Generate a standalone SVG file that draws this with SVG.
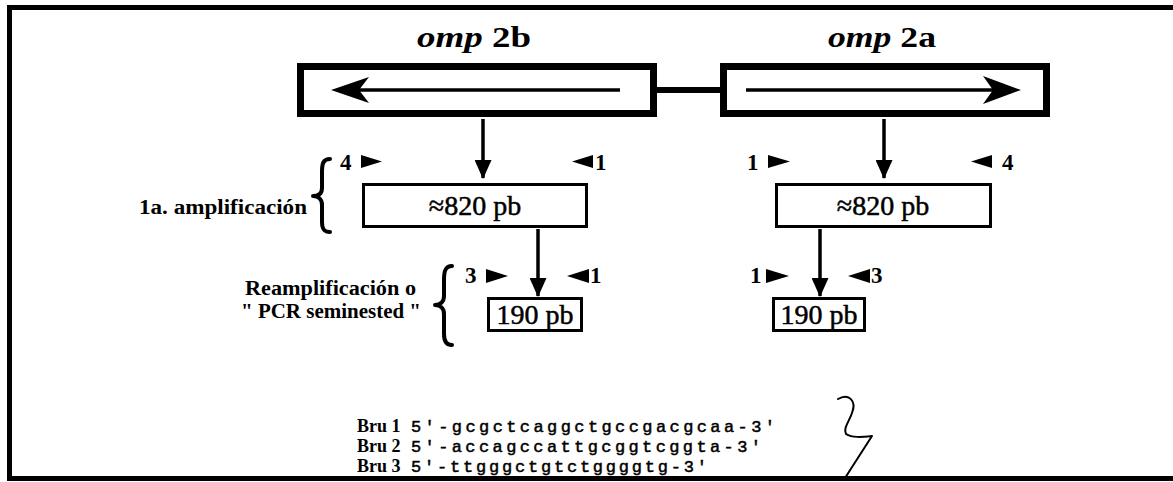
<svg xmlns="http://www.w3.org/2000/svg" width="1173" height="482" viewBox="0 0 1173 482">
<style>
.frame{fill:none;stroke:#000;stroke-width:5}
.gene{fill:#fff;stroke:#000;stroke-width:7}
.prod{fill:#fff;stroke:#000;stroke-width:3}
.ln{fill:none;stroke:#000;stroke-width:3.5}
.brace{fill:none;stroke:#000;stroke-width:4;stroke-linecap:round;stroke-linejoin:round}
.tri{fill:#000}
.title{font-family:"Liberation Serif",serif;font-weight:bold;font-size:29px;fill:#000}
.num{font-family:"Liberation Serif",serif;font-weight:bold;font-size:23px;fill:#000}
.size{font-family:"Liberation Serif",serif;font-size:28px;fill:#000;stroke:#000;stroke-width:0.5}
.lab{font-family:"Liberation Serif",serif;font-weight:bold;font-size:20px;fill:#000}
.bru{font-family:"Liberation Serif",serif;font-weight:bold;font-size:18px;fill:#000}
.seq{font-family:"Liberation Mono",monospace;font-size:17px;fill:#000;stroke:#000;stroke-width:0.5}
</style>
<defs>
<marker id="ah" viewBox="0 0 19 17" refX="18" refY="8.5" markerWidth="19" markerHeight="17" markerUnits="userSpaceOnUse" orient="auto">
<path d="M0,0 L19,8.5 L0,17 Z" fill="#000"/>
</marker>
</defs>
<rect width="1173" height="482" fill="#fff"/>
<g id="frame">
<path class="frame" d="M9.5,481 V7.5 H1173"/>
<path class="frame" d="M7,478.5 H1173"/>
</g>
<g id="gene-omp2b">
<rect class="gene" x="300.5" y="66.5" width="353" height="47"/>
<line class="ln" x1="620" y1="90" x2="350" y2="90"/>
<path class="tri" d="M331,90 L369,77 L359,90 L369,103 Z"/>
<text class="title" x="417" y="47" textLength="114" lengthAdjust="spacingAndGlyphs"><tspan font-style="italic">omp</tspan> 2b</text>
</g>
<g id="gene-omp2a">
<rect class="gene" x="723.5" y="66.5" width="323" height="47"/>
<line class="ln" x1="746" y1="90" x2="1000" y2="90"/>
<path class="tri" d="M1021,90 L983,76 L993,90 L983,104 Z"/>
<text class="title" x="828" y="47" textLength="108" lengthAdjust="spacingAndGlyphs"><tspan font-style="italic">omp</tspan> 2a</text>
</g>
<g id="connectors">
<line x1="657" y1="90" x2="720" y2="90" stroke="#000" stroke-width="6"/>
<line class="ln" x1="483" y1="119" x2="483" y2="178" marker-end="url(#ah)"/>
<line class="ln" x1="884" y1="119" x2="884" y2="178" marker-end="url(#ah)"/>
<line class="ln" x1="538" y1="229" x2="538" y2="296" marker-end="url(#ah)"/>
<line class="ln" x1="820" y1="229" x2="820" y2="296" marker-end="url(#ah)"/>
</g>
<g id="label-amp1">
<text class="lab" x="139" y="214" textLength="168" lengthAdjust="spacingAndGlyphs">1a. amplificación</text>
<path class="brace" d="M330,159 C323,159 322,164 322,172 L322,188 C322,194 318,196 313,196 C318,196 322,199 322,205 L322,222 C322,229 324,232 330,232"/>
</g>
<g id="label-reamp">
<text class="lab" x="245" y="295" textLength="171" lengthAdjust="spacingAndGlyphs">Reamplificación o</text>
<text class="lab" x="241" y="318" textLength="180" lengthAdjust="spacingAndGlyphs">" PCR seminested "</text>
<path class="brace" d="M452,266 C445,266 444,272 444,280 L444,296 C444,302 440,305 435,305 C440,305 444,308 444,314 L444,334 C444,341 446,345 452,345"/>
</g>
<g id="primers-b1">
<text class="num" x="340" y="170">4</text>
<path class="tri" d="M361,155 L382,161.5 L361,168 Z"/>
<path class="tri" d="M572,161.5 L593,155 L593,168 Z"/>
<text class="num" x="595" y="170">1</text>
</g>
<g id="primers-a1">
<text class="num" x="747" y="170">1</text>
<path class="tri" d="M768,155 L790,161.5 L768,168 Z"/>
<path class="tri" d="M971,161.5 L992,155 L992,168 Z"/>
<text class="num" x="1002" y="170">4</text>
</g>
<g id="prod-b820">
<rect class="prod" x="363.5" y="184.5" width="223" height="42"/>
<text class="size" x="475" y="215" text-anchor="middle">≈820 pb</text>
</g>
<g id="prod-a820">
<rect class="prod" x="776.5" y="184.5" width="214" height="42"/>
<text class="size" x="883" y="215" text-anchor="middle">≈820 pb</text>
</g>
<g id="primers-b2">
<text class="num" x="465" y="283">3</text>
<path class="tri" d="M486,269 L508,276 L486,283 Z"/>
<path class="tri" d="M567,276 L589,269 L589,283 Z"/>
<text class="num" x="590" y="283">1</text>
</g>
<g id="primers-a2">
<text class="num" x="750" y="283">1</text>
<path class="tri" d="M766,269 L789,276 L766,283 Z"/>
<path class="tri" d="M848,276 L870,269 L870,283 Z"/>
<text class="num" x="871" y="283">3</text>
</g>
<g id="prod-b190">
<rect class="prod" x="488.5" y="298.5" width="93" height="32"/>
<text class="size" x="535" y="324" text-anchor="middle">190 pb</text>
</g>
<g id="prod-a190">
<rect class="prod" x="773.5" y="298.5" width="91" height="32"/>
<text class="size" x="819" y="324" text-anchor="middle">190 pb</text>
</g>
<g id="primer-list">
<text class="bru" x="357" y="432">Bru 1</text>
<text class="seq" x="411" y="432" textLength="364" lengthAdjust="spacing">5'-gcgctcaggctgccgacgcaa-3'</text>
<text class="bru" x="357" y="452">Bru 2</text>
<text class="seq" x="411" y="452" textLength="350" lengthAdjust="spacing">5'-accagccattgcggtcggta-3'</text>
<text class="bru" x="357" y="472">Bru 3</text>
<text class="seq" x="411" y="472" textLength="296" lengthAdjust="spacing">5'-ttgggctgtctggggtg-3'</text>
<path fill="none" stroke="#000" stroke-width="2" stroke-linecap="round" stroke-linejoin="round" d="M838,399 C848,393 857,400 852,413 C849,422 843,428 846,434 C852,438 862,437 872,436 L845,478"/>
</g>
</svg>
